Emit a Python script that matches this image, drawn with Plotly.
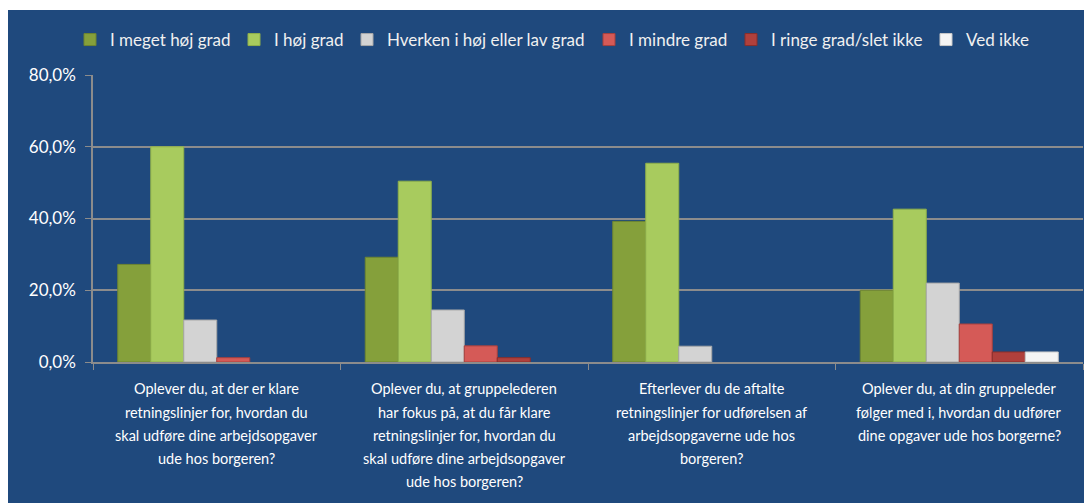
import plotly.graph_objects as go

categories = ["Q1", "Q2", "Q3", "Q4"]
category_labels = [
    ["Oplever du, at der er klare", "retningslinjer for, hvordan du",
     "skal udføre dine arbejdsopgaver", "ude hos borgeren?"],
    ["Oplever du, at gruppelederen", "har fokus på, at du får klare",
     "retningslinjer for, hvordan du", "skal udføre dine arbejdsopgaver",
     "ude hos borgeren?"],
    ["Efterlever du de aftalte", "retningslinjer for udførelsen af",
     "arbejdsopgaverne ude hos", "borgeren?"],
    ["Oplever du, at din gruppeleder", "følger med i, hvordan du udfører",
     "dine opgaver ude hos borgerne?"],
]

series_names = ["I meget høj grad", "I høj grad", "Hverken i høj eller lav grad",
                "I mindre grad", "I ringe grad/slet ikke", "Ved ikke"]

meget_hoej = [0.272, 0.292, 0.392, 0.200]
hoej = [0.600, 0.504, 0.554, 0.426]
hverken = [0.117, 0.145, 0.044, 0.220]
mindre = [0.012, 0.045, None, 0.106]
ringe = [None, 0.012, None, 0.028]
ved_ikke = [None, None, None, 0.028]

values = [meget_hoej, hoej, hverken, mindre, ringe, ved_ikke]
colors = ["#85A03B", "#A8CB5E", "#D3D3D3", "#D55A57", "#B0403C", "#F4F4F4"]
edges = ["#6E8530", "#8FB04A", "#A8A8A8", "#A8403D", "#8A2E2B", "#C8C8C8"]

W, H = 1092, 503
OFF = 8  # page body margin
# plot area in screen pixels -> figure pixels
PL, PR, PT, PB = 93 - OFF, 1083 - OFF, 75 - OFF, 362 - OFF
PW, PH = PR - PL, PB - PT

legend_text_px = [112, 276, 389, 631, 773, 968]

fig = go.Figure()
legend_layouts = {}
for i, (name, vals, c, e) in enumerate(zip(series_names, values, colors, edges)):
    lname = f"legend{i+2}"
    fig.add_trace(go.Bar(
        x=categories, y=vals, name=name, legend=lname,
        marker=dict(color=c, line=dict(color=e, width=1)),
    ))
    legend_layouts[lname] = dict(
        orientation="h", xref="container", yref="container",
        x=(legend_text_px[i] - OFF - 42) / W, xanchor="left",
        y=1 - (40 - OFF) / H, yanchor="middle",
        font=dict(size=17, color="#F0F0F0"),
        bgcolor="rgba(0,0,0,0)", itemwidth=30,
    )

annotations = []
line_y0, line_step = 389 - OFF, 23
for cat, lines in zip(categories, category_labels):
    for j, line in enumerate(lines):
        annotations.append(dict(
            x=cat, xref="x", yref="paper",
            y=(PB - (line_y0 + j * line_step)) / PH, yanchor="middle",
            text=line, showarrow=False,
            font=dict(size=14.5, color="white"),
        ))

BG = "#1F497D"
fig.update_layout(
    width=W, height=H,
    margin=dict(l=PL, r=W - PR, t=PT, b=H - PB, autoexpand=False),
    paper_bgcolor="white",
    plot_bgcolor="rgba(0,0,0,0)",
    separators=",.",
    barmode="group",
    bargap=0.2,
    bargroupgap=0,
    font=dict(family="Lato, Calibri, sans-serif", size=14, color="white"),
    shapes=[dict(
        type="rect", xref="paper", yref="paper",
        x0=-PL / PW, x1=(W - PL) / PW, y0=-(H - PB) / PH, y1=(PB - 2) / PH,
        fillcolor=BG, line=dict(width=0), layer="below",
    )],
    annotations=annotations,
    **legend_layouts,
)
fig.update_yaxes(
    range=[0, 0.8], tickvals=[0, 0.2, 0.4, 0.6, 0.8], tickformat=".1%",
    showgrid=True, gridcolor="#8C8C8C", gridwidth=1.5,
    showline=True, linecolor="#8C8C8C", linewidth=1.5,
    ticks="outside", ticklen=6, tickcolor="#8C8C8C",
    tickfont=dict(size=17, color="white"), zeroline=False,
    automargin=False, ticklabelstandoff=6,
)
fig.update_xaxes(
    showline=True, linecolor="#8C8C8C", linewidth=1.5,
    ticks="outside", ticklen=6, tickcolor="#8C8C8C", tickson="boundaries",
    showticklabels=False, automargin=False,
)
fig.write_html("out.html")
